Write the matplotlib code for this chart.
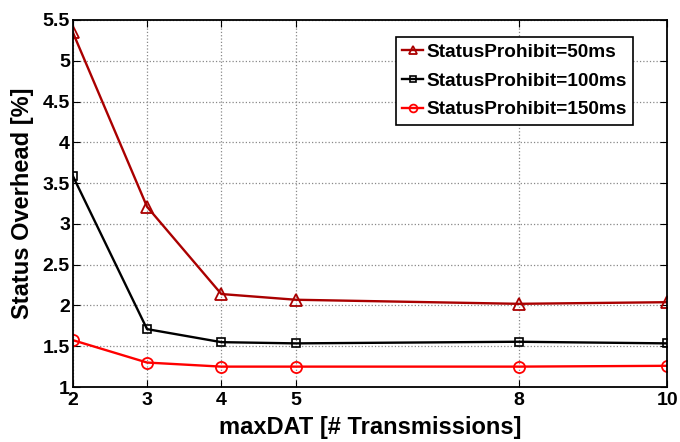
import numpy as np
import matplotlib.pyplot as plt

plt.rcParams['font.family'] = ['Liberation Sans', 'DejaVu Sans']
plt.rcParams['font.weight'] = 'bold'

# Data
max_dat = [2, 3, 4, 5, 8, 10]
sp_50ms = [5.35, 3.21, 2.14, 2.07, 2.02, 2.04]
sp_100ms = [3.59, 1.71, 1.55, 1.535, 1.555, 1.535]
sp_150ms = [1.575, 1.30, 1.25, 1.25, 1.25, 1.26]

fig = plt.figure(figsize=(6.8, 4.42), dpi=100)
ax = fig.add_axes([0.107, 0.1244, 0.874, 0.8304])

ax.plot(max_dat, sp_50ms, '-^', color='#aa0000', lw=1.7, ms=8, mfc='none',
        mew=1.3, label='StatusProhibit=50ms')
ax.plot(max_dat, sp_100ms, '-s', color='black', lw=1.7, ms=6, mfc='none',
        mew=1.2, label='StatusProhibit=100ms')
ax.plot(max_dat, sp_150ms, '-o', color='#ff0000', lw=1.7, ms=8, mfc='none',
        mew=1.3, label='StatusProhibit=150ms')

ax.set_xlim(2, 10)
ax.set_ylim(1, 5.5)
ax.set_xticks(max_dat)
ax.set_yticks(np.arange(1, 5.51, 0.5))
ax.set_yticklabels(['1', '1.5', '2', '2.5', '3', '3.5', '4', '4.5', '5', '5.5'])
ax.grid(True, linestyle=':', color='#888888', lw=0.9)
ax.tick_params(direction='in', top=True, right=True, labelsize=14, length=5)
ax.tick_params(axis='y', pad=2)
for s in ax.spines.values():
    s.set_linewidth(1.3)

ax.set_xlabel('maxDAT [# Transmissions]', fontsize=17, fontweight='bold',
              labelpad=5)
ax.set_ylabel('Status Overhead [%]', fontsize=17, fontweight='bold',
              labelpad=6)

leg = ax.legend(loc='upper right', bbox_to_anchor=(0.943, 0.954), fontsize=13.7,
                fancybox=False, framealpha=1, edgecolor='black',
                handlelength=1.1, handletextpad=0.15, borderpad=0.35,
                labelspacing=0.6, markerscale=0.7, borderaxespad=0)
leg.get_frame().set_linewidth(1.2)

fig.savefig('out.png', dpi=100)
